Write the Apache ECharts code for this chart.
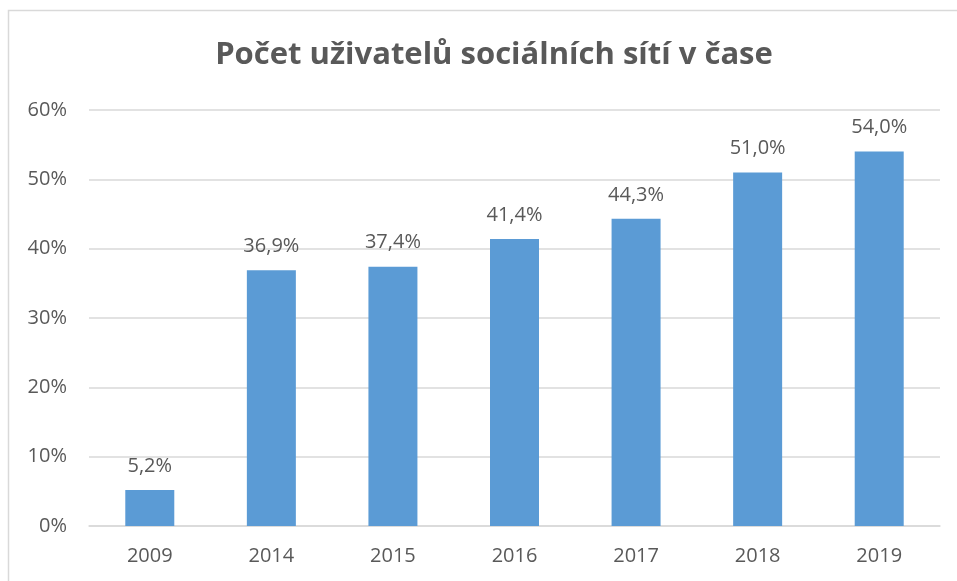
<!DOCTYPE html>
<html>
<head>
<meta charset="utf-8">
<script src="https://cdn.jsdelivr.net/npm/echarts@6/dist/echarts.min.js"></script>
<style>
  html, body { margin: 0; padding: 0; background: #fff; }
  #chart { width: 957px; height: 581px; }
</style>
</head>
<body>
<div id="chart"></div>
<script>
const years = ['2009', '2014', '2015', '2016', '2017', '2018', '2019']
const userShare = [5.2, 36.9, 37.4, 41.4, 44.3, 51.0, 54.0]
const titleText = 'Počet uživatelů sociálních sítí v čase'

const textColor = '#595959'
const gridColor = '#d9d9d9'
const fontFamily = '"Open Sans", sans-serif'

const chart = echarts.init(document.getElementById('chart'))

const option = {
  animation: false,
  backgroundColor: '#fff',
  title: {
    text: titleText,
    left: 489,
    top: 35,
    textAlign: 'center',
    textStyle: {
      color: textColor,
      fontFamily: fontFamily,
      fontWeight: 'bold',
      fontSize: 31
    }
  },
  graphic: [
    {
      type: 'rect',
      shape: { x: 8.5, y: 10.5, width: 1000, height: 700 },
      style: { fill: 'none', stroke: gridColor, lineWidth: 1.5 },
      silent: true
    }
  ],
  grid: {
    left: 89,
    right: 17,
    top: 110,
    bottom: 55
  },
  xAxis: {
    type: 'category',
    data: years,
    axisLine: { show: true, lineStyle: { color: gridColor, width: 1.5 } },
    axisTick: { show: false },
    axisLabel: {
      color: textColor,
      fontFamily: fontFamily,
      fontSize: 20,
      margin: 20
    }
  },
  yAxis: {
    type: 'value',
    min: 0,
    max: 60,
    interval: 10,
    axisLine: { show: false },
    axisTick: { show: false },
    splitLine: { lineStyle: { color: gridColor, width: 1.5 } },
    axisLabel: {
      color: textColor,
      fontFamily: fontFamily,
      fontSize: 20,
      margin: 22,
      formatter: v => v + '%'
    }
  },
  series: [
    {
      type: 'bar',
      data: userShare,
      barWidth: 49,
      itemStyle: { color: '#5B9BD5' },
      label: {
        show: true,
        position: 'top',
        distance: 14,
        color: textColor,
        fontFamily: fontFamily,
        fontSize: 20,
        formatter: p => p.value.toFixed(1).replace('.', ',') + '%'
      }
    }
  ]
}

chart.setOption(option)
</script>
</body>
</html>
